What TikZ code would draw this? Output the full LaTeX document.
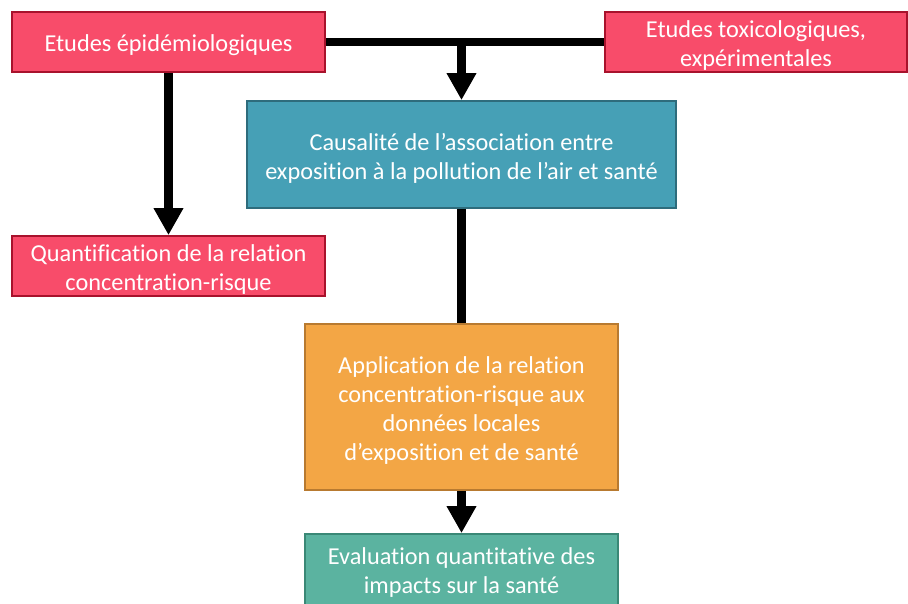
\documentclass[tikz,border=0pt]{standalone}
\usepackage{fontspec}
\setmainfont[Ligatures=NoCommon]{Carlito}
\usetikzlibrary{arrows.meta}
\definecolor{redfill}{RGB}{248,76,106}
\definecolor{redline}{RGB}{168,18,44}
\definecolor{bluefill}{RGB}{70,160,182}
\definecolor{blueline}{RGB}{46,108,124}
\definecolor{orangefill}{RGB}{243,166,69}
\definecolor{orangeline}{RGB}{184,122,48}
\definecolor{greenfill}{RGB}{91,179,160}
\definecolor{greenline}{RGB}{58,136,118}
\tikzset{
  box/.style={draw, line width=1.8pt, inner sep=0pt},
  redbox/.style={box, fill=redfill, draw=redline, minimum width=313pt, minimum height=60pt},
  boxtext/.style={text=white, align=center, inner sep=0pt,
    font=\fontsize{24.3}{29}\selectfont},
  link/.style={line width=8.5pt, draw=black},
  arrowlink/.style={link, -{Triangle[width=28pt,length=27pt]}},
}
\begin{document}
\begin{tikzpicture}[x=1pt,y=-1pt]
\useasboundingbox (0,0) rectangle (908,603);
% boxes
\node[redbox] (epi) at (168.5,42) {};
\node[redbox, minimum width=302pt] (toxi) at (756,42) {};
\node[box, fill=bluefill, draw=blueline, minimum width=429pt, minimum height=107pt] (caus) at (461.5,154.5) {};
\node[redbox] (quant) at (168.5,266) {};
\node[box, fill=orangefill, draw=orangeline, minimum width=313pt, minimum height=166pt] (appl) at (461.5,407) {};
\node[box, fill=greenfill, draw=greenline, minimum width=313pt, minimum height=74pt] (eval) at (461.5,571) {};
% box texts, set slightly below the box centres
\node[boxtext] (epi-t) at ([yshift=-3.5pt]epi.center) {Etudes épidémiologiques};
\node[boxtext] (toxi-t) at ([yshift=-3.5pt]toxi.center) {Etudes toxicologiques,\\expérimentales};
\node[boxtext] (caus-t) at ([yshift=-3.5pt]caus.center)
  {Causalité de l’association entre\\exposition à la pollution de l’air et santé};
\node[boxtext] (quant-t) at ([yshift=-3.5pt]quant.center) {Quantification de la relation\\concentration-risque};
\node[boxtext] (appl-t) at ([yshift=-3.5pt]appl.center)
  {Application de la relation\\concentration-risque aux\\données locales\\d’exposition et de santé};
\node[boxtext] (eval-t) at ([yshift=-2pt]eval.center) {Evaluation quantitative des\\impacts sur la santé};
% connectors
\coordinate (join) at (caus.north |- epi.east);
\draw[link] (epi.east) -- (toxi.west);
\draw[arrowlink] (join) -- (caus.north);
\draw[arrowlink] (epi.south) -- (quant.north);
\draw[link] (caus.south) -- (appl.north);
\draw[arrowlink] (appl.south) -- (eval.north);
\end{tikzpicture}
\end{document}
